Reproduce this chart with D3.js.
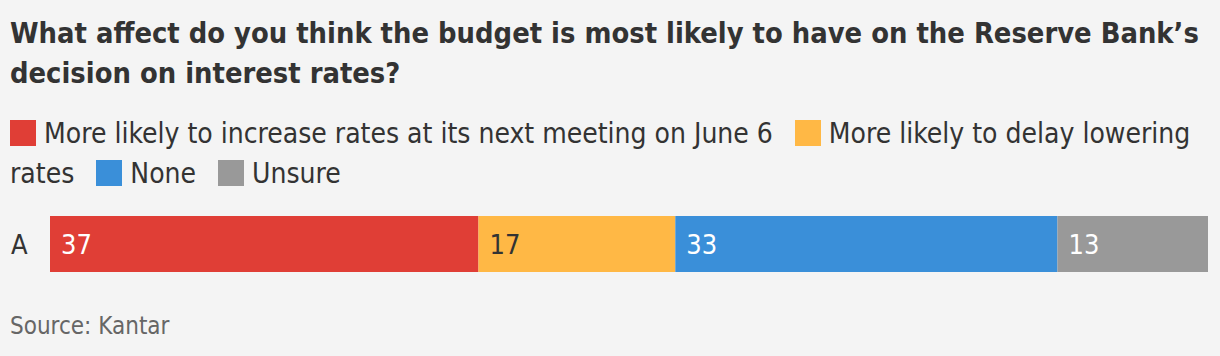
<!DOCTYPE html>
<html><head><meta charset="utf-8">
<script src="https://cdn.jsdelivr.net/npm/d3@7"></script>
<style>
html,body{margin:0;padding:0;background:#f4f4f4;}
body{width:1220px;height:356px;overflow:hidden;font-family:"DejaVu Sans Condensed","DejaVu Sans",sans-serif;color:#333;}
#title{position:absolute;left:10px;top:13px;width:1210px;font-weight:bold;font-size:28.8px;line-height:40px;color:#333;}
#legend{position:absolute;left:10px;top:114px;width:1200px;font-size:28px;line-height:40px;color:#333;}
.sw{display:inline-block;width:26px;height:26px;vertical-align:-3px;margin-right:8px;}
.w{white-space:nowrap;}
.gap{display:inline-block;width:6px;}
svg{position:absolute;left:0;top:0;}
</style></head>
<body>
<div id="title"></div>
<div id="legend"></div>
<svg id="chart" width="1220" height="356"></svg>
<script>
const titleText = "What affect do you think the budget is most likely to have on the Reserve Bank\u2019s decision on interest rates?";
const categories = ["A"];
const seriesNames = ["More likely to increase rates at its next meeting on June 6","More likely to delay lowering rates","None","Unsure"];
const seriesValues = [37,17,33,13];
const seriesColors = ["#e03e36","#ffb845","#3a8fd9","#999999"];
const labelColors = ["#ffffff","#333333","#ffffff","#ffffff"];
const sourceText = "Source: Kantar";

d3.select("#title").text(titleText);
const leg = d3.select("#legend");
seriesNames.forEach((n,i)=>{
  const words = n.split(" ");
  words.forEach((w,j)=>{
    const s = leg.append("span").attr("class","w");
    if(j===0) s.append("span").attr("class","sw").style("background",seriesColors[i]);
    s.append("span").text(w);
    leg.node().appendChild(document.createTextNode(" "));
  });
  leg.append("span").attr("class","gap");
  leg.node().appendChild(document.createTextNode(" "));
});

const svg = d3.select("#chart");
const x = d3.scaleLinear().domain([0,d3.sum(seriesValues)]).range([50,1208]);
const y = d3.scaleBand().domain(categories).range([216,272]).padding(0);
let cum = 0;
const segs = seriesValues.map((v,i)=>{const s={v,i,x0:cum,x1:cum+v};cum+=v;return s;});
svg.selectAll("rect.seg").data(segs).enter().append("rect").attr("class","seg")
  .attr("x",d=>x(d.x0)).attr("width",d=>x(d.x1)-x(d.x0))
  .attr("y",y("A")).attr("height",y.bandwidth())
  .attr("fill",d=>seriesColors[d.i]);
svg.selectAll("text.val").data(segs).enter().append("text").attr("class","val")
  .attr("x",d=>x(d.x0)+11).attr("y",y("A")+y.bandwidth()/2+10)
  .attr("fill",d=>labelColors[d.i]).style("font-size","27px")
  .style("font-family","'DejaVu Sans Condensed','DejaVu Sans',sans-serif")
  .text(d=>d.v);
svg.selectAll("text.cat").data(categories).enter().append("text").attr("class","cat")
  .attr("x",11).attr("y",d=>y(d)+y.bandwidth()/2+10)
  .attr("fill","#333").style("font-size","27px")
  .style("font-family","'DejaVu Sans Condensed','DejaVu Sans',sans-serif")
  .text(d=>d);
svg.append("text").attr("x",10).attr("y",334).attr("fill","#666")
  .style("font-size","24px").style("font-family","'DejaVu Sans Condensed','DejaVu Sans',sans-serif")
  .text(sourceText);
</script>
</body></html>
